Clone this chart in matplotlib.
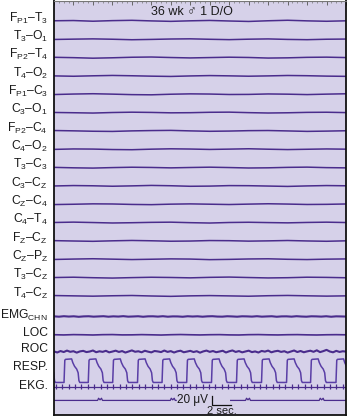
import numpy as np
import matplotlib
matplotlib.use("Agg")
import matplotlib.pyplot as plt
from matplotlib.ticker import MultipleLocator
import matplotlib.transforms as mtransforms

plt.rcParams['font.family'] = ['Liberation Sans', 'DejaVu Sans']
plt.rcParams['mathtext.fontset'] = 'custom'
plt.rcParams['mathtext.rm'] = 'Liberation Sans'
plt.rcParams['mathtext.it'] = 'Liberation Sans'
plt.rcParams['mathtext.default'] = 'regular'

# ---------------- data ----------------
title = "36 wk \u2642 1 D/O"
eeg_labels = ["F$_{P1}$\u2013T$_{3}$", "T$_{3}$\u2013O$_{1}$", "F$_{P2}$\u2013T$_{4}$",
              "T$_{4}$\u2013O$_{2}$", "F$_{P1}$\u2013C$_{3}$", "C$_{3}$\u2013O$_{1}$",
              "F$_{P2}$\u2013C$_{4}$", "C$_{4}$\u2013O$_{2}$", "T$_{3}$\u2013C$_{3}$",
              "C$_{3}$\u2013C$_{Z}$", "C$_{Z}$\u2013C$_{4}$", "C$_{4}$\u2013T$_{4}$",
              "F$_{Z}$\u2013C$_{Z}$", "C$_{Z}$\u2013P$_{Z}$", "T$_{3}$\u2013C$_{Z}$",
              "T$_{4}$\u2013C$_{Z}$"]
poly_labels = ["EMG$_{CHN}$", "LOC", "ROC", "RESP.", "EKG."]

# EEG samples (uV) every 2 s, 0..30 s
eeg = [
    [0.5, 1.0, -0.5, 0.8, 1.5, 0.2, -0.8, 0.4, 1.2, 0.0, -1.0, 0.5, 1.6, 0.3, -0.6, 0.4],
    [-0.3, 0.4, 1.0, 0.2, -0.9, -0.2, 0.7, 1.1, 0.1, -0.7, 0.3, 0.9, -0.2, -0.8, 0.2, 0.6],
    [0.8, 0.0, -1.2, -0.3, 0.9, 1.4, 0.3, -0.6, 0.2, 1.0, 0.4, -0.9, -0.4, 0.7, 1.1, 0.2],
    [0.2, -0.6, 0.4, 1.2, 0.5, -0.4, -1.0, 0.1, 0.9, 0.3, -0.5, 0.2, 1.1, 0.6, -0.3, -0.8],
    [-0.5, 0.6, 1.3, 0.4, -0.7, -1.1, 0.2, 1.0, 0.6, -0.4, -0.2, 0.8, 0.3, -0.6, 0.4, 1.2],
    [0.4, -0.2, -0.9, 0.3, 1.0, 0.5, -0.4, -0.1, 0.8, 1.1, 0.0, -0.8, -0.3, 0.6, 0.9, 0.1],
    [1.0, 0.3, -0.6, -1.0, 0.2, 0.9, 1.3, 0.2, -0.7, -0.2, 0.7, 1.0, 0.1, -0.9, -0.3, 0.5],
    [-0.2, 0.8, 0.5, -0.5, -0.9, 0.3, 1.1, 0.6, -0.3, 0.4, 1.2, 0.2, -0.6, 0.1, 0.8, 0.3],
    [0.6, -0.4, -1.0, 0.1, 0.9, 0.4, -0.5, 0.3, 1.0, 0.2, -0.8, -0.4, 0.6, 1.1, 0.0, -0.5],
    [0.0, 0.9, 0.4, -0.6, 0.2, 1.2, 0.5, -0.7, -0.3, 0.8, 0.6, -0.2, -1.0, 0.1, 0.9, 0.4],
    [-0.6, 0.1, 1.0, 0.7, -0.3, -0.8, 0.3, 0.9, 0.2, -0.5, 0.4, 1.2, 0.5, -0.4, -0.1, 0.7],
    [0.3, 1.1, 0.2, -0.8, -0.2, 0.6, 1.0, -0.1, -0.9, 0.3, 0.8, 0.1, -0.5, 0.4, 1.0, 0.2],
    [0.7, -0.1, -0.8, 0.3, 1.1, 0.4, -0.6, -0.2, 0.9, 0.6, -0.4, 0.2, 1.0, 0.0, -0.7, 0.3],
    [-0.4, 0.5, 1.2, 0.3, -0.6, 0.1, 0.9, 0.5, -0.8, -0.2, 0.7, 1.1, 0.0, -0.6, 0.3, 0.8],
    [0.2, 0.9, -0.2, -1.0, 0.0, 0.8, 0.3, -0.5, 0.6, 1.2, 0.2, -0.7, -0.2, 0.9, 0.5, -0.3],
    [0.9, 0.2, -0.5, 0.4, 1.0, -0.1, -0.9, 0.2, 0.8, 0.1, -0.6, 0.5, 1.1, 0.3, -0.4, 0.2],
]
emg = [0.3, -0.5, 0.6, -0.2, 0.4, -0.7, 0.2, 0.5, -0.4, 0.1, 0.6, -0.5, 0.3, -0.2, 0.7,
       -0.4, 0.0, 0.5, -0.6, 0.3, 0.4, -0.3, 0.6, -0.5, 0.2, 0.1, -0.6, 0.5, -0.1, 0.4,
       -0.5, 0.3, 0.6, -0.2, -0.4, 0.5, 0.1, -0.5, 0.4, 0.2, -0.3, 0.6, -0.4, 0.1, 0.5,
       -0.6, 0.2, 0.3, -0.4, 0.6, -0.1, -0.5, 0.4, 0.2, -0.3, 0.5, -0.6, 0.3, 0.1, -0.2]
loc = [0.2, -0.3, 0.4, 0.1, -0.4, 0.3, 0.5, -0.2, -0.1, 0.4, 0.0, -0.5, 0.2, 0.6, 0.1,
       -0.3, 0.2, 0.4, -0.2, -0.4, 0.3, 0.5, 0.0, -0.3, 0.2, 0.4, -0.1, -0.4, 0.1, 0.3, 0.0]
roc = [0.5, -1.8, 1.4, -0.8, 2.4, -0.3, 1.0, -2.1, 0.6, 1.8, -0.9, 0.3, 2.6, -1.2, 0.8,
       -0.4, 1.9, -1.5, 0.2, 2.2, -0.6, 1.3, -2.0, 0.4, 2.8, -0.2, 0.9, -1.4, 2.0, 0.0,
       -1.6, 1.5, 0.5, -0.9, 2.5, -0.5, 1.2, -1.9, 0.7, 2.1, -1.3, 0.2, 1.8, -0.8, 1.0,
       -2.2, 0.6, 2.4, -0.4, 1.4, -1.2, 0.3, 2.0, -1.8, 0.8, 2.7, -0.6, 1.3, -1.5, 0.4,
       2.2, -1.0, 0.5, -1.9, 1.6, 0.1, 2.4, -1.4, 0.7, 1.9, -0.5, 1.0, -2.1, 0.3, 2.6,
       -0.8, 1.5, -1.3, 0.6, 2.1, -0.3, 3.0, -1.0, 1.2, 4.0, 0.4, -1.4, 1.8, -0.6, 0.9, 0.2]
# respiration: breath onsets (s) and one breath's shape (s after onset, fraction of full)
resp_onsets = [-1.48, 1.03, 3.52, 6.03, 8.58, 11.10, 13.63, 16.18, 18.75, 21.32,
               23.89, 26.36, 28.97]
resp_shape_t = [0.0, 0.08, 0.15, 0.78, 0.90, 1.08, 1.30, 1.45, 1.53, 1.62]
resp_shape_v = [0.0, 0.96, 1.0, 1.02, 0.86, 0.70, 0.58, 0.42, 0.08, 0.0]
# EKG beat times (s)
ekg_beats = [0.20, 0.86, 1.51, 2.17, 2.82, 3.48, 4.13, 4.79, 5.44, 6.10, 6.75, 7.41,
             8.06, 8.72, 9.37, 10.03, 10.68, 11.34, 11.99, 12.65, 13.30, 13.96, 14.61,
             15.27, 15.92, 16.58, 17.23, 17.89, 18.54, 19.20, 19.85, 20.51, 21.16,
             21.82, 22.47, 23.13, 23.78, 24.44, 25.09, 25.75, 26.40, 27.06, 27.71,
             28.37, 29.02, 29.68]
# time-marker pips (s)
marker_times = [4.73, 12.2, 19.93, 27.5]
cal_uv = 20
cal_sec = 2

# ---------------- style / layout ----------------
BG = '#d6d1e9'
TRACE = '#4a2c8c'
RESPC = '#5a3ea6'
TXT = '#1a1a1a'
UV_PER_ROW = 40.7   # uV per row spacing

W, H = 354, 418
fig = plt.figure(figsize=(W / 100, H / 100), dpi=100)
fig.patch.set_facecolor('white')
ax = fig.add_axes([54 / W, 3 / H, 292 / W, 414.5 / H])
ax.set_facecolor(BG)
ax.set_xlim(0, 30)
ax.set_ylim(21.495, -1.118)

for s in ['left', 'right', 'bottom']:
    ax.spines[s].set_color('#111111')
    ax.spines[s].set_linewidth(1.3)
ax.spines['top'].set_color('#777777')
ax.spines['top'].set_linewidth(0.8)
ax.xaxis.set_ticks_position('top')
ax.xaxis.set_major_locator(MultipleLocator(2))
ax.xaxis.set_minor_locator(MultipleLocator(0.5))
ax.tick_params(axis='x', which='major', direction='in', length=3, width=0.7,
               color='#666666', labeltop=False, labelbottom=False)
ax.tick_params(axis='x', which='minor', direction='in', length=1.6, width=0.5,
               color='#777777')
ax.set_yticks([])

lab_tr = mtransforms.blended_transform_factory(ax.transAxes, ax.transData)
lab_x = -0.021
LFS = 8.7

# EEG traces
t_eeg = np.linspace(0, 30, len(eeg[0]))
for i, (vals, lab) in enumerate(zip(eeg, eeg_labels)):
    ax.plot(t_eeg, i - np.array(vals) / UV_PER_ROW, color=TRACE, lw=1.1)
    ax.text(lab_x, i - 0.16, lab, transform=lab_tr, ha='right', va='center',
            fontsize=LFS, color=TXT)

# polygraphic channels
rows = {'EMG': 16.12, 'LOC': 17.12, 'ROC': 18.04, 'RESP_LO': 19.72, 'RESP_HI': 18.46,
        'EKG': 19.97, 'MARK': 20.70}
t_emg = np.linspace(0, 30, len(emg))
ax.plot(t_emg, rows['EMG'] - np.array(emg) / UV_PER_ROW, color=TRACE, lw=1.5)
t_loc = np.linspace(0, 30, len(loc))
ax.plot(t_loc, rows['LOC'] - np.array(loc) / UV_PER_ROW, color=TRACE, lw=1.2)
t_roc = np.linspace(0, 30, len(roc))
ax.plot(t_roc, rows['ROC'] - np.array(roc) / UV_PER_ROW, color=TRACE, lw=1.5)

rt, rv = [], []
for o in resp_onsets:
    for dt, v in zip(resp_shape_t, resp_shape_v):
        rt.append(o + dt)
        rv.append(v)
rv = np.array(rv)
ax.plot(rt, rows['RESP_LO'] - rv * (rows['RESP_LO'] - rows['RESP_HI']),
        color=RESPC, lw=1.1)

ax.axhline(rows['EKG'], color=TRACE, lw=0.9)
ax.vlines(ekg_beats, rows['EKG'] - 0.15, rows['EKG'] + 0.11, color=TRACE, lw=0.9)

poly_y = [16.04, 17.0, 17.9, 18.9, 19.9]
for lab, y in zip(poly_labels, poly_y):
    ax.text(lab_x, y, lab, transform=lab_tr, ha='right', va='center',
            fontsize=LFS, color=TXT)

# time marker line with pips
def pipline(t0, t1):
    xs, ys = [t0], [0.0]
    for m in marker_times:
        if t0 < m < t1:
            xs += [m - 0.25, m - 0.15, m, m + 0.15, m + 0.25]
            ys += [0.0, 0.12, 0.03, 0.12, 0.0]
    xs.append(t1)
    ys.append(0.0)
    return np.array(xs), rows['MARK'] - np.array(ys)

for seg in [(0, 12.55), (18.15, 30)]:
    xs, ys = pipline(*seg)
    ax.plot(xs, ys, color=TRACE, lw=0.9)

# calibration
cal_x0 = 16.2
cal_base = 20.95
ax.plot([cal_x0, cal_x0, cal_x0 + cal_sec],
        [cal_base - cal_uv / UV_PER_ROW, cal_base, cal_base],
        color='#111111', lw=0.9)
ax.text(cal_x0 - 0.35, 20.68, "20 \u03bcV", ha='right', va='center', fontsize=8.5,
        color=TXT)
ax.text(cal_x0 + cal_sec / 2, 21.25, "2 sec.", ha='center', va='center',
        fontsize=8, color=TXT)

ax.text(14.15, -0.47, title, ha='center', va='center', fontsize=9, color=TXT)

fig.savefig('out.png', dpi=100, facecolor='white')
